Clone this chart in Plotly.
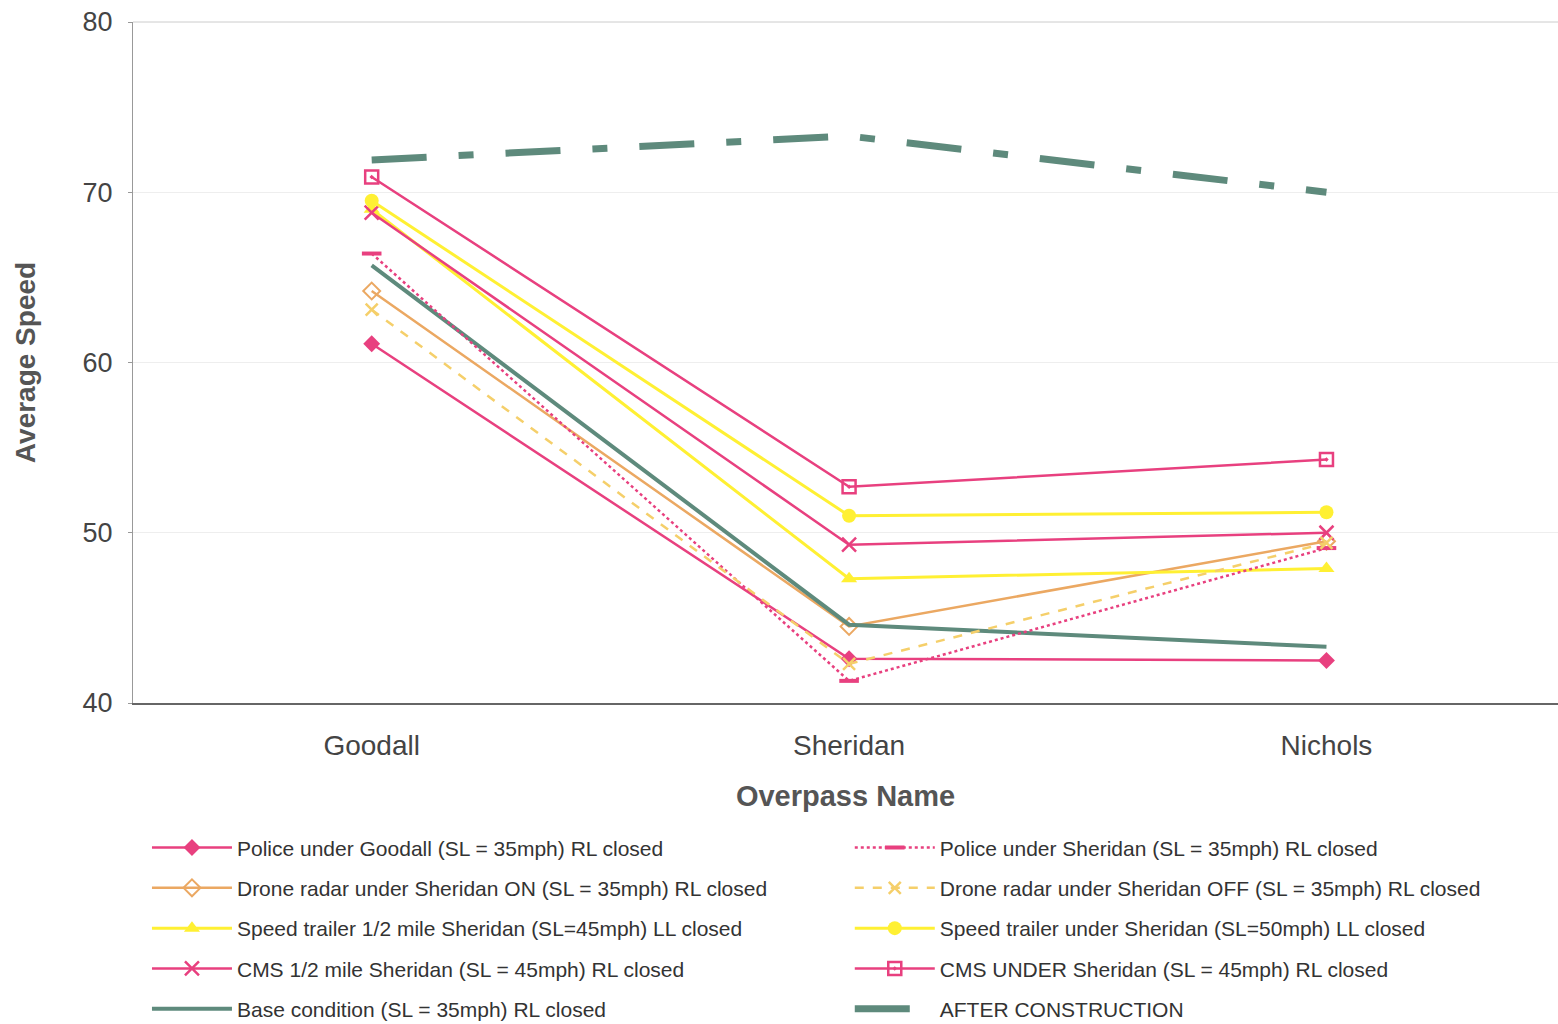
import plotly.graph_objects as go

overpasses = ["Goodall", "Sheridan", "Nichols"]

police_goodall = [61.1, 42.6, 42.5]
police_sheridan = [66.4, 41.3, 49.1]
drone_on = [64.2, 44.5, 49.5]
drone_off = [63.1, 42.3, 49.4]
trailer_half_mile = [69.0, 47.3, 47.9]
trailer_under = [69.5, 51.0, 51.2]
cms_half_mile = [68.8, 49.3, 50.0]
cms_under = [70.9, 52.7, 54.3]
base_condition = [65.7, 44.6, 43.3]
after_construction = [71.9, 73.3, 70.0]

PINK = "#E8407F"
YELLOW = "#FFF033"
ORANGE = "#EBA862"
DRONE_OFF = "#F5CF6A"
TEAL = "#5E8A7C"

FONT = "Arial, Liberation Sans, sans-serif"

fig = go.Figure()


def add(name, y, color, width=2.5, dash="solid", symbol=None, size=11,
        legend="legend", mline=None):
    marker = dict(symbol=symbol or "circle", size=size, color=color)
    if mline:
        marker["line"] = mline
    fig.add_trace(go.Scatter(
        x=overpasses, y=y, name=name,
        mode="lines+markers" if symbol else "lines",
        line=dict(color=color, width=width, dash=dash),
        marker=marker, legend=legend, legendgroup=name,
    ))


# left legend column
add("Police under Goodall (SL = 35mph) RL closed", police_goodall, PINK,
    symbol="diamond", size=13)
add("Drone radar under Sheridan ON (SL = 35mph) RL closed", drone_on, ORANGE,
    symbol="diamond-open", size=13, mline=dict(width=2, color=ORANGE))
add("Speed trailer 1/2 mile Sheridan (SL=45mph) LL closed", trailer_half_mile,
    YELLOW, width=3, symbol="triangle-up", size=14)
add("CMS 1/2 mile Sheridan (SL = 45mph) RL closed", cms_half_mile, PINK,
    symbol="x-thin-open", size=14, mline=dict(width=2.5, color=PINK))
add("Base condition (SL = 35mph) RL closed", base_condition, TEAL, width=4)

# right legend column
add("Police under Sheridan (SL = 35mph) RL closed", police_sheridan, PINK,
    dash="dot", symbol="line-ew-open", size=14,
    mline=dict(width=4, color=PINK), legend="legend2")
add("Drone radar under Sheridan OFF (SL = 35mph) RL closed", drone_off,
    DRONE_OFF, dash="dash", symbol="x-thin-open", size=12,
    mline=dict(width=2.5, color=ORANGE), legend="legend2")
add("Speed trailer under Sheridan (SL=50mph) LL closed", trailer_under,
    YELLOW, width=3, symbol="circle", size=14, legend="legend2")
add("CMS UNDER Sheridan (SL = 45mph) RL closed", cms_under, PINK,
    symbol="square-open-dot", size=13, mline=dict(width=2.5, color=PINK),
    legend="legend2")
add("AFTER CONSTRUCTION", after_construction, TEAL, width=7,
    dash="55px,32px,15px,32px", legend="legend2")

legend_style = dict(
    orientation="v", yanchor="top", xanchor="left",
    xref="paper", yref="container",
    font=dict(family=FONT, size=21, color="#333333"),
    bgcolor="rgba(0,0,0,0)", tracegroupgap=10, itemwidth=80,
    traceorder="grouped",
)

fig.update_layout(
    width=1558, height=1024,
    margin=dict(l=133, r=0, t=22, b=321),
    paper_bgcolor="white", plot_bgcolor="white",
    font=dict(family=FONT, color="#444444"),
    showlegend=True,
    legend=dict(x=0.0098, y=0.192, **legend_style),
    legend2=dict(x=0.503, y=0.192, **legend_style),
    xaxis=dict(
        range=[-0.5, 2.485], showgrid=False, zeroline=False,
        showline=True, linecolor="#666666", linewidth=1.5,
        ticks="", ticklabelstandoff=17,
        tickfont=dict(size=28, color="#444444", family=FONT),
        title=dict(text="<b>Overpass Name</b>", standoff=25,
                   font=dict(size=29, color="#555555", family=FONT)),
    ),
    yaxis=dict(
        range=[40, 80], dtick=10, showgrid=True, gridcolor="#EEEEEE",
        gridwidth=1, zeroline=False, showline=True, linecolor="#999999",
        linewidth=1, ticks="outside", ticklen=4, tickcolor="#999999",
        ticklabelstandoff=10,
        tickfont=dict(size=27, color="#444444", family=FONT),
        title=dict(text="<b>Average Speed</b>", standoff=38,
                   font=dict(size=28, color="#555555", family=FONT)),
    ),
    shapes=[dict(type="line", xref="paper", yref="paper", x0=0, x1=1,
                 y0=1, y1=1, line=dict(color="#CCCCCC", width=1))],
)

fig.write_html("out.html")
